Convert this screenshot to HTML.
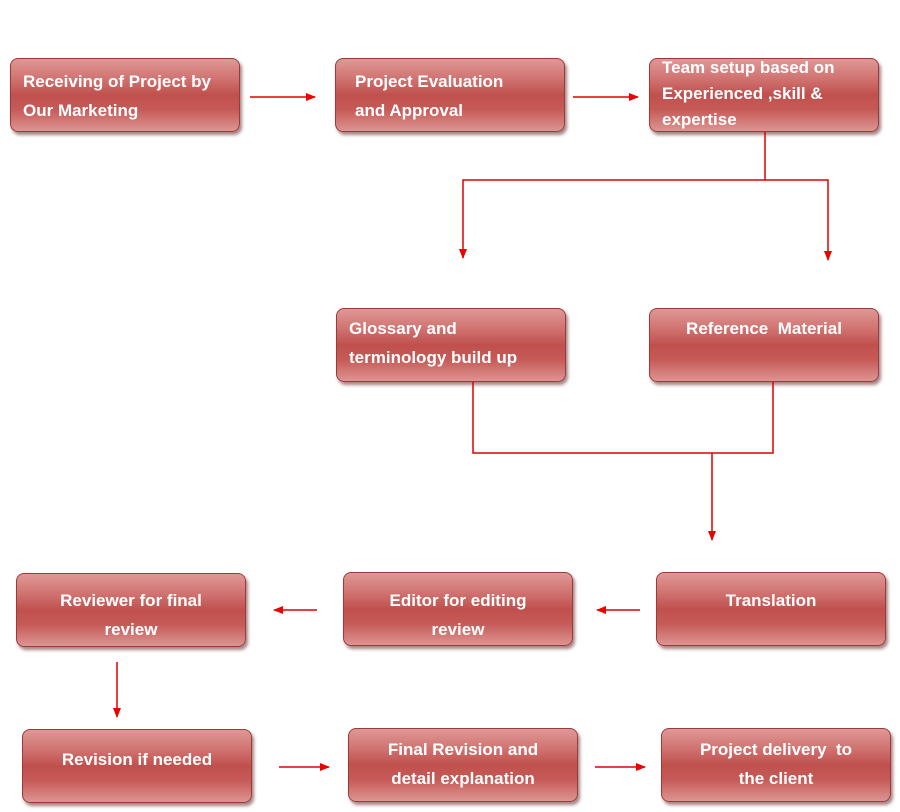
<!DOCTYPE html>
<html><head><meta charset="utf-8"><style>
body{margin:0;width:900px;height:812px;background:#fff;position:relative;overflow:hidden;font-family:"Liberation Sans",sans-serif}
.b{position:absolute;box-sizing:border-box;width:230px;height:74px;border:1.5px solid #9a3b39;border-radius:8px;
background:linear-gradient(#df9896 0%,#d07270 28%,#c0504d 50%,#c65a57 70%,#dc9593 100%);
box-shadow:2px 3px 3px rgba(90,30,30,.55);color:#fff;font-weight:bold;font-size:17px;line-height:29px;padding:8px 12px 0;white-space:nowrap}
.c{text-align:center;padding-left:0;padding-right:0}
svg{position:absolute;left:0;top:0}
</style></head><body>
<div class="b" style="left:10px;top:58px">Receiving of Project by<br>Our Marketing</div>
<div class="b" style="left:335px;top:58px;padding-left:19px">Project Evaluation<br>and Approval</div>
<div class="b" style="left:649px;top:58px;line-height:26px;padding-top:0"><div style="position:relative;top:-4px">Team setup based on<br>Experienced ,skill &amp;<br>expertise</div></div>
<div class="b" style="left:336px;top:308px;padding-top:5px">Glossary and<br>terminology build up</div>
<div class="b c" style="left:649px;top:308px;padding-top:5px">Reference&nbsp; Material</div>
<div class="b c" style="left:656px;top:572px;padding-top:13px">Translation</div>
<div class="b c" style="left:343px;top:572px;padding-top:13px">Editor for editing<br>review</div>
<div class="b c" style="left:16px;top:573px;padding-top:12px">Reviewer for final<br>review</div>
<div class="b c" style="left:22px;top:729px;padding-top:15px">Revision if needed</div>
<div class="b c" style="left:348px;top:728px;padding-top:6px">Final Revision and<br>detail explanation</div>
<div class="b c" style="left:661px;top:728px;padding-top:6px">Project delivery&nbsp; to<br>the client</div>
<svg width="900" height="812">
<defs><marker id="a" markerWidth="10" markerHeight="8" refX="9" refY="4" orient="auto" markerUnits="userSpaceOnUse"><path d="M0,0L10,4L0,8z" fill="#e00"/></marker></defs>
<g stroke="#d00" stroke-width="1.5" fill="none">
<line x1="250" y1="97" x2="315" y2="97" marker-end="url(#a)"/>
<line x1="573" y1="97" x2="638" y2="97" marker-end="url(#a)"/>
<polyline points="765,132 765,180 463,180 463,258" marker-end="url(#a)"/>
<polyline points="765,180 828,180 828,260" marker-end="url(#a)"/>
<polyline points="473,382 473,453 773,453 773,382"/>
<line x1="712" y1="453" x2="712" y2="540" marker-end="url(#a)"/>
<line x1="640" y1="610" x2="597" y2="610" marker-end="url(#a)"/>
<line x1="317" y1="610" x2="274" y2="610" marker-end="url(#a)"/>
<line x1="117" y1="662" x2="117" y2="717" marker-end="url(#a)"/>
<line x1="279" y1="767" x2="329" y2="767" marker-end="url(#a)"/>
<line x1="595" y1="767" x2="645" y2="767" marker-end="url(#a)"/>
</g></svg>
</body></html>
